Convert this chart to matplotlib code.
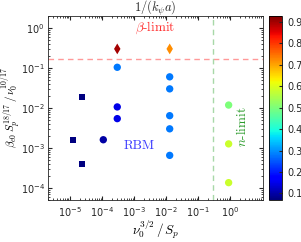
import matplotlib
matplotlib.use('Agg')
import matplotlib.pyplot as plt
import numpy as np

plt.rcParams['mathtext.fontset'] = 'cm'
plt.rcParams['font.family'] = ['DejaVu Sans']

# circles (RBM runs)
circ_x = [3e-4, 3e-4, 3e-4, 1.1e-4, 1.3e-2, 1.3e-2, 1.3e-2, 1.3e-2, 1.3e-2, 0.9, 0.9, 0.9]
circ_y = [0.104, 0.0106, 0.0054, 1.6e-3, 0.06, 0.03, 0.0064, 0.003, 6.5e-4, 0.0118, 1.26e-3, 1.35e-4]
circ_c = [0.28, 0.15, 0.15, 0.10, 0.28, 0.28, 0.28, 0.28, 0.28, 0.50, 0.58, 0.58]

# squares
sq_x = [2.4e-5, 1.25e-5, 2.4e-5]
sq_y = [0.019, 1.6e-3, 3.9e-4]
sq_c = [0.07, 0.07, 0.07]

# diamonds (beta-limited)
dm_x = [3e-4, 1.3e-2]
dm_y = [0.3, 0.3]
dm_c = [0.90, 0.72]

beta_lim = 0.17
n_lim = 0.3
cticks = [0.1, 0.2, 0.3, 0.4, 0.5, 0.6, 0.7, 0.8, 0.9]

fig = plt.figure(figsize=(3.01, 2.42), dpi=100)
ax = fig.add_axes([0.158, 0.174, 0.716, 0.760])
cax = fig.add_axes([0.894, 0.174, 0.043, 0.760])

vmin, vmax = 0.07, 0.927
ax.axhline(beta_lim, color='#ff9999', ls='--', lw=1, dashes=(4, 3))
ax.axvline(n_lim, color='#a8d8a8', ls='--', lw=1, dashes=(4, 3))
sc = ax.scatter(circ_x, circ_y, c=circ_c, cmap='jet', vmin=vmin, vmax=vmax, s=28, marker='o', edgecolors='none')
ax.scatter(sq_x, sq_y, c=sq_c, cmap='jet', vmin=vmin, vmax=vmax, s=16, marker='s', edgecolors='none')
ax.scatter(dm_x, dm_y, c=dm_c, cmap='jet', vmin=vmin, vmax=vmax, s=30, marker='d', edgecolors='none')

ax.set_xscale('log')
ax.set_yscale('log')
ax.set_xlim(2e-6, 10.7)
ax.set_ylim(5e-5, 2)
ax.set_xticks([1e-5, 1e-4, 1e-3, 1e-2, 1e-1, 1e0])
ax.set_yticks([1e-4, 1e-3, 1e-2, 1e-1, 1e0])
ax.tick_params(which='both', direction='in', top=True, right=True, labelsize=7, colors='#262626')
ax.tick_params(which='major', length=3)
ax.tick_params(which='minor', length=1.5)
ax.tick_params(axis='y', pad=2)
for s in ax.spines.values():
    s.set_color('#262626')
    s.set_linewidth(0.6)

ax.text(4.6e-3, 1.0, r'$\beta$-limit', color='#ff3030', fontsize=9.5, ha='center', va='center', family='cmr10')
ax.text(1.5e-3, 1.15e-3, 'RBM', color='#3a3aff', fontsize=9.5, ha='center', va='center', family='cmr10')
ax.text(2.3, 3.4e-3, r'$n$-limit', color='#2a9a2a', fontsize=9.5, rotation=90, ha='center', va='center', family='cmr10')
ax.text(0.5, 1.04, r'$1/(k_\psi a)$', fontsize=9, ha='center', va='center', transform=ax.transAxes, color='#262626')
ax.set_xlabel(r'$\nu_0^{3/2}\,/\,S_p$', fontsize=9.5, labelpad=0)
ax.set_ylabel(r'$\beta_{e0}\,S_p^{18/17}\,/\,\nu_0^{10/17}$', fontsize=8, va='center')
ax.yaxis.set_label_coords(-0.167, 0.5)

cb = fig.colorbar(sc, cax=cax, ticks=cticks)
cb.ax.tick_params(labelsize=7, direction='in', length=2, colors='#262626')
cb.outline.set_linewidth(0.6)

fig.savefig('out.png', dpi=100)
